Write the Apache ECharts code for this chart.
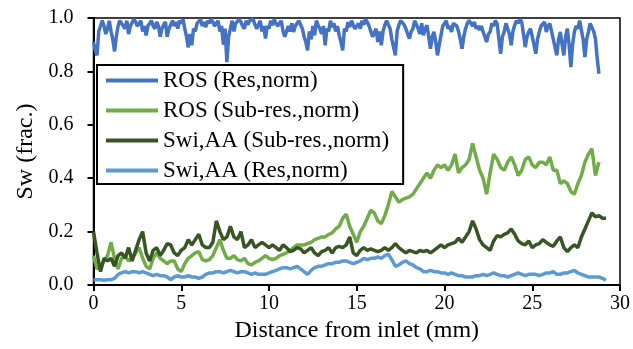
<!DOCTYPE html>
<html>
<head>
<meta charset="utf-8">
<script src="https://cdn.jsdelivr.net/npm/echarts@6/dist/echarts.min.js"></script>
<style>
  html, body { margin: 0; padding: 0; background: #fff; }
  #chart { width: 633px; height: 349px; }
</style>
</head>
<body>
<div id="chart"></div>
<script>
// Sampling positions along the core (mm from inlet), 0.2 mm spacing
const distance = [
  0, 0.2, 0.4, 0.6, 0.8, 1, 1.2, 1.4, 1.6, 1.8,
  2, 2.2, 2.4, 2.6, 2.8, 3, 3.2, 3.4, 3.6, 3.8,
  4, 4.2, 4.4, 4.6, 4.8, 5, 5.2, 5.4, 5.6, 5.8,
  6, 6.2, 6.4, 6.6, 6.8, 7, 7.2, 7.4, 7.6, 7.8,
  8, 8.2, 8.4, 8.6, 8.8, 9, 9.2, 9.4, 9.6, 9.8,
  10, 10.2, 10.4, 10.6, 10.8, 11, 11.2, 11.4, 11.6, 11.8,
  12, 12.2, 12.4, 12.6, 12.8, 13, 13.2, 13.4, 13.6, 13.8,
  14, 14.2, 14.4, 14.6, 14.8, 15, 15.2, 15.4, 15.6, 15.8,
  16, 16.2, 16.4, 16.6, 16.8, 17, 17.2, 17.4, 17.6, 17.8,
  18, 18.2, 18.4, 18.6, 18.8, 19, 19.2, 19.4, 19.6, 19.8,
  20, 20.2, 20.4, 20.6, 20.8, 21, 21.2, 21.4, 21.6, 21.8,
  22, 22.2, 22.4, 22.6, 22.8, 23, 23.2, 23.4, 23.6, 23.8,
  24, 24.2, 24.4, 24.6, 24.8, 25, 25.2, 25.4, 25.6, 25.8,
  26, 26.2, 26.4, 26.6, 26.8, 27, 27.2, 27.4, 27.6, 27.8,
  28, 28.2, 28.4, 28.6, 28.8, 29, 29.2
];

// Finer positions (0.1 mm spacing) for the resolved-porosity oil profile
const distanceFine = [
  0, 0.1, 0.2, 0.3, 0.4, 0.5, 0.6, 0.7, 0.8, 0.9,
  1, 1.1, 1.2, 1.3, 1.4, 1.5, 1.6, 1.7, 1.8, 1.9,
  2, 2.1, 2.2, 2.3, 2.4, 2.5, 2.6, 2.7, 2.8, 2.9,
  3, 3.1, 3.2, 3.3, 3.4, 3.5, 3.6, 3.7, 3.8, 3.9,
  4, 4.1, 4.2, 4.3, 4.4, 4.5, 4.6, 4.7, 4.8, 4.9,
  5, 5.1, 5.2, 5.3, 5.4, 5.5, 5.6, 5.7, 5.8, 5.9,
  6, 6.1, 6.2, 6.3, 6.4, 6.5, 6.6, 6.7, 6.8, 6.9,
  7, 7.1, 7.2, 7.3, 7.4, 7.5, 7.6, 7.7, 7.8, 7.9,
  8, 8.1, 8.2, 8.3, 8.4, 8.5, 8.6, 8.7, 8.8, 8.9,
  9, 9.1, 9.2, 9.3, 9.4, 9.5, 9.6, 9.7, 9.8, 9.9,
  10, 10.1, 10.2, 10.3, 10.4, 10.5, 10.6, 10.7, 10.8, 10.9,
  11, 11.1, 11.2, 11.3, 11.4, 11.5, 11.6, 11.7, 11.8, 11.9,
  12, 12.1, 12.2, 12.3, 12.4, 12.5, 12.6, 12.7, 12.8, 12.9,
  13, 13.1, 13.2, 13.3, 13.4, 13.5, 13.6, 13.7, 13.8, 13.9,
  14, 14.1, 14.2, 14.3, 14.4, 14.5, 14.6, 14.7, 14.8, 14.9,
  15, 15.1, 15.2, 15.3, 15.4, 15.5, 15.6, 15.7, 15.8, 15.9,
  16, 16.1, 16.2, 16.3, 16.4, 16.5, 16.6, 16.7, 16.8, 16.9,
  17, 17.1, 17.2, 17.3, 17.4, 17.5, 17.6, 17.7, 17.8, 17.9,
  18, 18.1, 18.2, 18.3, 18.4, 18.5, 18.6, 18.7, 18.8, 18.9,
  19, 19.1, 19.2, 19.3, 19.4, 19.5, 19.6, 19.7, 19.8, 19.9,
  20, 20.1, 20.2, 20.3, 20.4, 20.5, 20.6, 20.7, 20.8, 20.9,
  21, 21.1, 21.2, 21.3, 21.4, 21.5, 21.6, 21.7, 21.8, 21.9,
  22, 22.1, 22.2, 22.3, 22.4, 22.5, 22.6, 22.7, 22.8, 22.9,
  23, 23.1, 23.2, 23.3, 23.4, 23.5, 23.6, 23.7, 23.8, 23.9,
  24, 24.1, 24.2, 24.3, 24.4, 24.5, 24.6, 24.7, 24.8, 24.9,
  25, 25.1, 25.2, 25.3, 25.4, 25.5, 25.6, 25.7, 25.8, 25.9,
  26, 26.1, 26.2, 26.3, 26.4, 26.5, 26.6, 26.7, 26.8, 26.9,
  27, 27.1, 27.2, 27.3, 27.4, 27.5, 27.6, 27.7, 27.8, 27.9,
  28, 28.1, 28.2, 28.3, 28.4, 28.5, 28.6, 28.7, 28.8
];

// ROS (Res,norm) on the 0.1 mm positions
const rosRes = [
  0.91, 0.88, 0.86, 0.95, 0.97, 0.99, 0.97, 0.94, 0.96, 0.99,
  0.95, 0.92, 0.875, 0.93, 0.97, 0.99, 0.985, 0.97, 0.96, 0.99,
  0.94, 0.97, 0.975, 0.995, 0.985, 0.97, 0.98, 0.99, 0.95, 0.97,
  0.935, 0.97, 0.98, 0.99, 0.97, 0.96, 0.985, 0.97, 0.93, 0.96,
  0.975, 0.985, 0.93, 0.96, 0.975, 0.99, 0.97, 0.985, 0.96, 0.99,
  0.98, 0.995, 0.96, 0.93, 0.89, 0.94, 0.898, 0.96, 0.95, 0.98,
  0.985, 0.995, 0.97, 0.985, 0.966, 0.99, 0.98, 0.995, 0.985, 0.97,
  0.966, 0.99, 0.95, 0.97, 0.9, 0.96, 0.835, 0.93, 0.96, 0.99,
  0.95, 0.98, 0.975, 0.995, 0.985, 0.97, 0.96, 0.99, 0.975, 0.99,
  0.985, 0.995, 0.975, 0.96, 0.966, 0.99, 0.95, 0.97, 0.923, 0.97,
  0.96, 0.99, 0.973, 0.995, 0.98, 0.97, 0.975, 0.99, 0.95, 0.93,
  0.935, 0.97, 0.95, 0.98, 0.948, 0.97, 0.97, 0.99, 0.985, 0.96,
  0.93, 0.91, 0.879, 0.95, 0.92, 0.97, 0.935, 0.99, 0.973, 0.96,
  0.94, 0.97, 0.898, 0.96, 0.95, 0.99, 0.966, 0.98, 0.95, 0.97,
  0.935, 0.91, 0.879, 0.96, 0.95, 0.985, 0.966, 0.99, 0.973, 0.96,
  0.955, 0.98, 0.96, 0.99, 0.975, 0.995, 0.985, 0.97, 0.95, 0.93,
  0.93, 0.96, 0.91, 0.95, 0.898, 0.95, 0.973, 0.99, 0.985, 0.96,
  0.92, 0.89, 0.86, 0.95, 0.973, 0.99, 0.985, 0.975, 0.96, 0.94,
  0.923, 0.95, 0.96, 0.99, 0.985, 0.96, 0.94, 0.98, 0.935, 0.96,
  0.973, 0.93, 0.885, 0.93, 0.948, 0.91, 0.86, 0.9, 0.935, 0.97,
  0.979, 0.99, 0.96, 0.97, 0.948, 0.98, 0.985, 0.97, 0.95, 0.92,
  0.885, 0.93, 0.96, 0.98, 0.991, 0.98, 0.97, 0.985, 0.96, 0.97,
  0.955, 0.97, 0.948, 0.93, 0.91, 0.94, 0.948, 0.98, 0.97, 0.99,
  0.979, 0.92, 0.866, 0.93, 0.948, 0.98, 0.985, 0.94, 0.898, 0.95,
  0.973, 0.99, 0.98, 0.995, 0.985, 0.94, 0.891, 0.93, 0.948, 0.96,
  0.93, 0.9, 0.866, 0.92, 0.948, 0.97, 0.973, 0.985, 0.948, 0.97,
  0.979, 0.95, 0.92, 0.89, 0.86, 0.92, 0.948, 0.9, 0.86, 0.93,
  0.96, 0.9, 0.816, 0.9, 0.948, 0.97, 0.96, 0.99, 0.985, 0.92,
  0.854, 0.92, 0.948, 0.98, 0.985, 0.95, 0.923, 0.85, 0.791
];

// ROS (Sub-res.,norm)
const rosSub = [
  0.11, 0.06, 0.07, 0.09, 0.11, 0.16, 0.10, 0.06, 0.10, 0.11,
  0.09, 0.10, 0.12, 0.14, 0.10, 0.07, 0.06, 0.10, 0.12, 0.10,
  0.09, 0.08, 0.09, 0.09, 0.06, 0.05, 0.08, 0.10, 0.11, 0.12,
  0.125, 0.095, 0.09, 0.095, 0.11, 0.14, 0.17, 0.13, 0.10, 0.10,
  0.11, 0.095, 0.09, 0.10, 0.08, 0.075, 0.085, 0.09, 0.10, 0.11,
  0.10, 0.095, 0.10, 0.11, 0.115, 0.12, 0.13, 0.14, 0.15, 0.15,
  0.15, 0.155, 0.16, 0.17, 0.175, 0.18, 0.18, 0.19, 0.195, 0.21,
  0.22, 0.25, 0.265, 0.22, 0.19, 0.16, 0.20, 0.22, 0.25, 0.28,
  0.27, 0.24, 0.23, 0.26, 0.30, 0.35, 0.33, 0.31, 0.32, 0.325,
  0.33, 0.34, 0.36, 0.38, 0.40, 0.42, 0.40, 0.43, 0.45, 0.44,
  0.45, 0.43, 0.45, 0.49, 0.42, 0.44, 0.45, 0.47, 0.53, 0.48,
  0.43, 0.40, 0.34, 0.42, 0.49, 0.47, 0.44, 0.43, 0.46, 0.48,
  0.45, 0.41, 0.43, 0.47, 0.48, 0.45, 0.44, 0.46, 0.46, 0.45,
  0.48, 0.43, 0.43, 0.38, 0.39, 0.38, 0.35, 0.34, 0.38, 0.41,
  0.46, 0.49, 0.51, 0.41, 0.46
];

// Swi,AA (Sub-res.,norm)
const swiSub = [
  0.20, 0.12, 0.05, 0.10, 0.09, 0.10, 0.07, 0.11, 0.12, 0.10,
  0.14, 0.09, 0.13, 0.17, 0.20, 0.12, 0.09, 0.13, 0.14, 0.11,
  0.13, 0.155, 0.15, 0.12, 0.11, 0.13, 0.14, 0.17, 0.15, 0.17,
  0.19, 0.15, 0.14, 0.14, 0.16, 0.24, 0.20, 0.17, 0.18, 0.22,
  0.18, 0.17, 0.20, 0.14, 0.15, 0.17, 0.14, 0.15, 0.16, 0.15,
  0.14, 0.15, 0.14, 0.13, 0.15, 0.14, 0.125, 0.13, 0.14, 0.135,
  0.12, 0.13, 0.14, 0.12, 0.11, 0.125, 0.13, 0.14, 0.12, 0.14,
  0.145, 0.14, 0.15, 0.18, 0.12, 0.11, 0.13, 0.14, 0.13, 0.135,
  0.13, 0.125, 0.13, 0.14, 0.13, 0.14, 0.155, 0.14, 0.13, 0.12,
  0.13, 0.125, 0.12, 0.13, 0.125, 0.13, 0.12, 0.13, 0.14, 0.15,
  0.14, 0.15, 0.155, 0.16, 0.175, 0.16, 0.18, 0.20, 0.24, 0.21,
  0.17, 0.15, 0.14, 0.13, 0.165, 0.185, 0.18, 0.19, 0.195, 0.21,
  0.19, 0.165, 0.155, 0.15, 0.165, 0.14, 0.15, 0.155, 0.17, 0.16,
  0.15, 0.145, 0.165, 0.18, 0.14, 0.125, 0.14, 0.15, 0.14, 0.18,
  0.21, 0.24, 0.27, 0.255, 0.26, 0.25, 0.25
];

// Swi,AA (Res,norm)
const swiRes = [
  0.02, 0.02, 0.02, 0.018, 0.02, 0.02, 0.025, 0.04, 0.045, 0.05,
  0.045, 0.05, 0.05, 0.045, 0.05, 0.045, 0.04, 0.035, 0.04, 0.035,
  0.035, 0.03, 0.02, 0.03, 0.035, 0.03, 0.03, 0.035, 0.03, 0.03,
  0.025, 0.03, 0.04, 0.045, 0.045, 0.05, 0.05, 0.045, 0.05, 0.055,
  0.05, 0.045, 0.05, 0.05, 0.045, 0.04, 0.045, 0.04, 0.04, 0.04,
  0.045, 0.05, 0.055, 0.06, 0.065, 0.065, 0.06, 0.065, 0.07, 0.06,
  0.05, 0.04, 0.055, 0.065, 0.07, 0.07, 0.075, 0.08, 0.08, 0.085,
  0.085, 0.09, 0.09, 0.085, 0.08, 0.085, 0.09, 0.10, 0.095, 0.10,
  0.10, 0.105, 0.10, 0.11, 0.115, 0.095, 0.07, 0.075, 0.085, 0.09,
  0.08, 0.075, 0.065, 0.06, 0.05, 0.05, 0.055, 0.05, 0.05, 0.045,
  0.045, 0.04, 0.045, 0.04, 0.035, 0.035, 0.03, 0.03, 0.03, 0.035,
  0.035, 0.04, 0.035, 0.04, 0.045, 0.04, 0.035, 0.035, 0.03, 0.035,
  0.04, 0.045, 0.04, 0.035, 0.04, 0.04, 0.04, 0.035, 0.04, 0.045,
  0.045, 0.05, 0.04, 0.04, 0.045, 0.045, 0.05, 0.055, 0.045, 0.04,
  0.035, 0.03, 0.03, 0.03, 0.03, 0.025, 0.018
];

const seriesNames = [
  'ROS (Res,norm)',
  'ROS (Sub-res.,norm)',
  'Swi,AA (Sub-res.,norm)',
  'Swi,AA (Res,norm)'
];
const seriesColors = ['#4472C4', '#70AD47', '#375623', '#5B9BD5'];
const seriesValues = [rosRes, rosSub, swiSub, swiRes];
const seriesPositions = [distanceFine, distance, distance, distance];

function toPoints(xs, values) {
  return values.map((v, i) => [xs[i], v]);
}

const serif = "'Liberation Serif', 'Times New Roman', serif";
const chart = echarts.init(document.getElementById('chart'), null, { renderer: 'canvas' });

chart.setOption({
  animation: false,
  backgroundColor: '#ffffff',
  textStyle: { fontFamily: serif, color: '#000' },
  grid: {
    left: 93.5, right: 12, top: 18, bottom: 64,
    show: true, borderColor: '#000', borderWidth: 1.5,
    containLabel: false
  },
  legend: {
    orient: 'vertical',
    left: 97, top: 65,
    icon: 'rect',
    itemWidth: 52, itemHeight: 4, itemGap: 7,
    padding: [4, 14, 2, 9],
    borderColor: '#000', borderWidth: 2,
    backgroundColor: '#fff',
    selectedMode: false,
    textStyle: { fontFamily: serif, fontSize: 23, lineHeight: 22, color: '#000' },
    data: seriesNames
  },
  xAxis: {
    type: 'value', min: 0, max: 30, interval: 5,
    name: 'Distance from inlet (mm)',
    nameLocation: 'middle', nameGap: 21,
    nameTextStyle: { fontFamily: serif, fontSize: 24, color: '#000' },
    axisLine: { lineStyle: { color: '#000', width: 2 } },
    axisTick: { length: 6, lineStyle: { color: '#000', width: 2 } },
    axisLabel: { fontFamily: serif, fontSize: 20, color: '#000', margin: 9 },
    splitLine: { show: false }
  },
  yAxis: {
    type: 'value', min: 0, max: 1, interval: 0.2,
    name: 'Sw (frac.)',
    nameLocation: 'middle', nameGap: 47,
    nameTextStyle: { fontFamily: serif, fontSize: 24, color: '#000' },
    axisLine: { show: true, lineStyle: { color: '#000', width: 2 } },
    axisTick: { show: true, length: 6, lineStyle: { color: '#000', width: 2 } },
    axisLabel: {
      fontFamily: serif, fontSize: 20, color: '#000', margin: 20,
      formatter: v => v.toFixed(1)
    },
    splitLine: { show: false }
  },
  series: seriesNames.map((name, k) => ({
    name,
    type: 'line',
    data: toPoints(seriesPositions[k], seriesValues[k]),
    symbol: 'none',
    showSymbol: false,
    clip: true,
    color: seriesColors[k],
    itemStyle: { color: seriesColors[k] },
    lineStyle: { color: seriesColors[k], width: 3.5 },
    z: 2 + k
  }))
});
</script>
</body>
</html>
